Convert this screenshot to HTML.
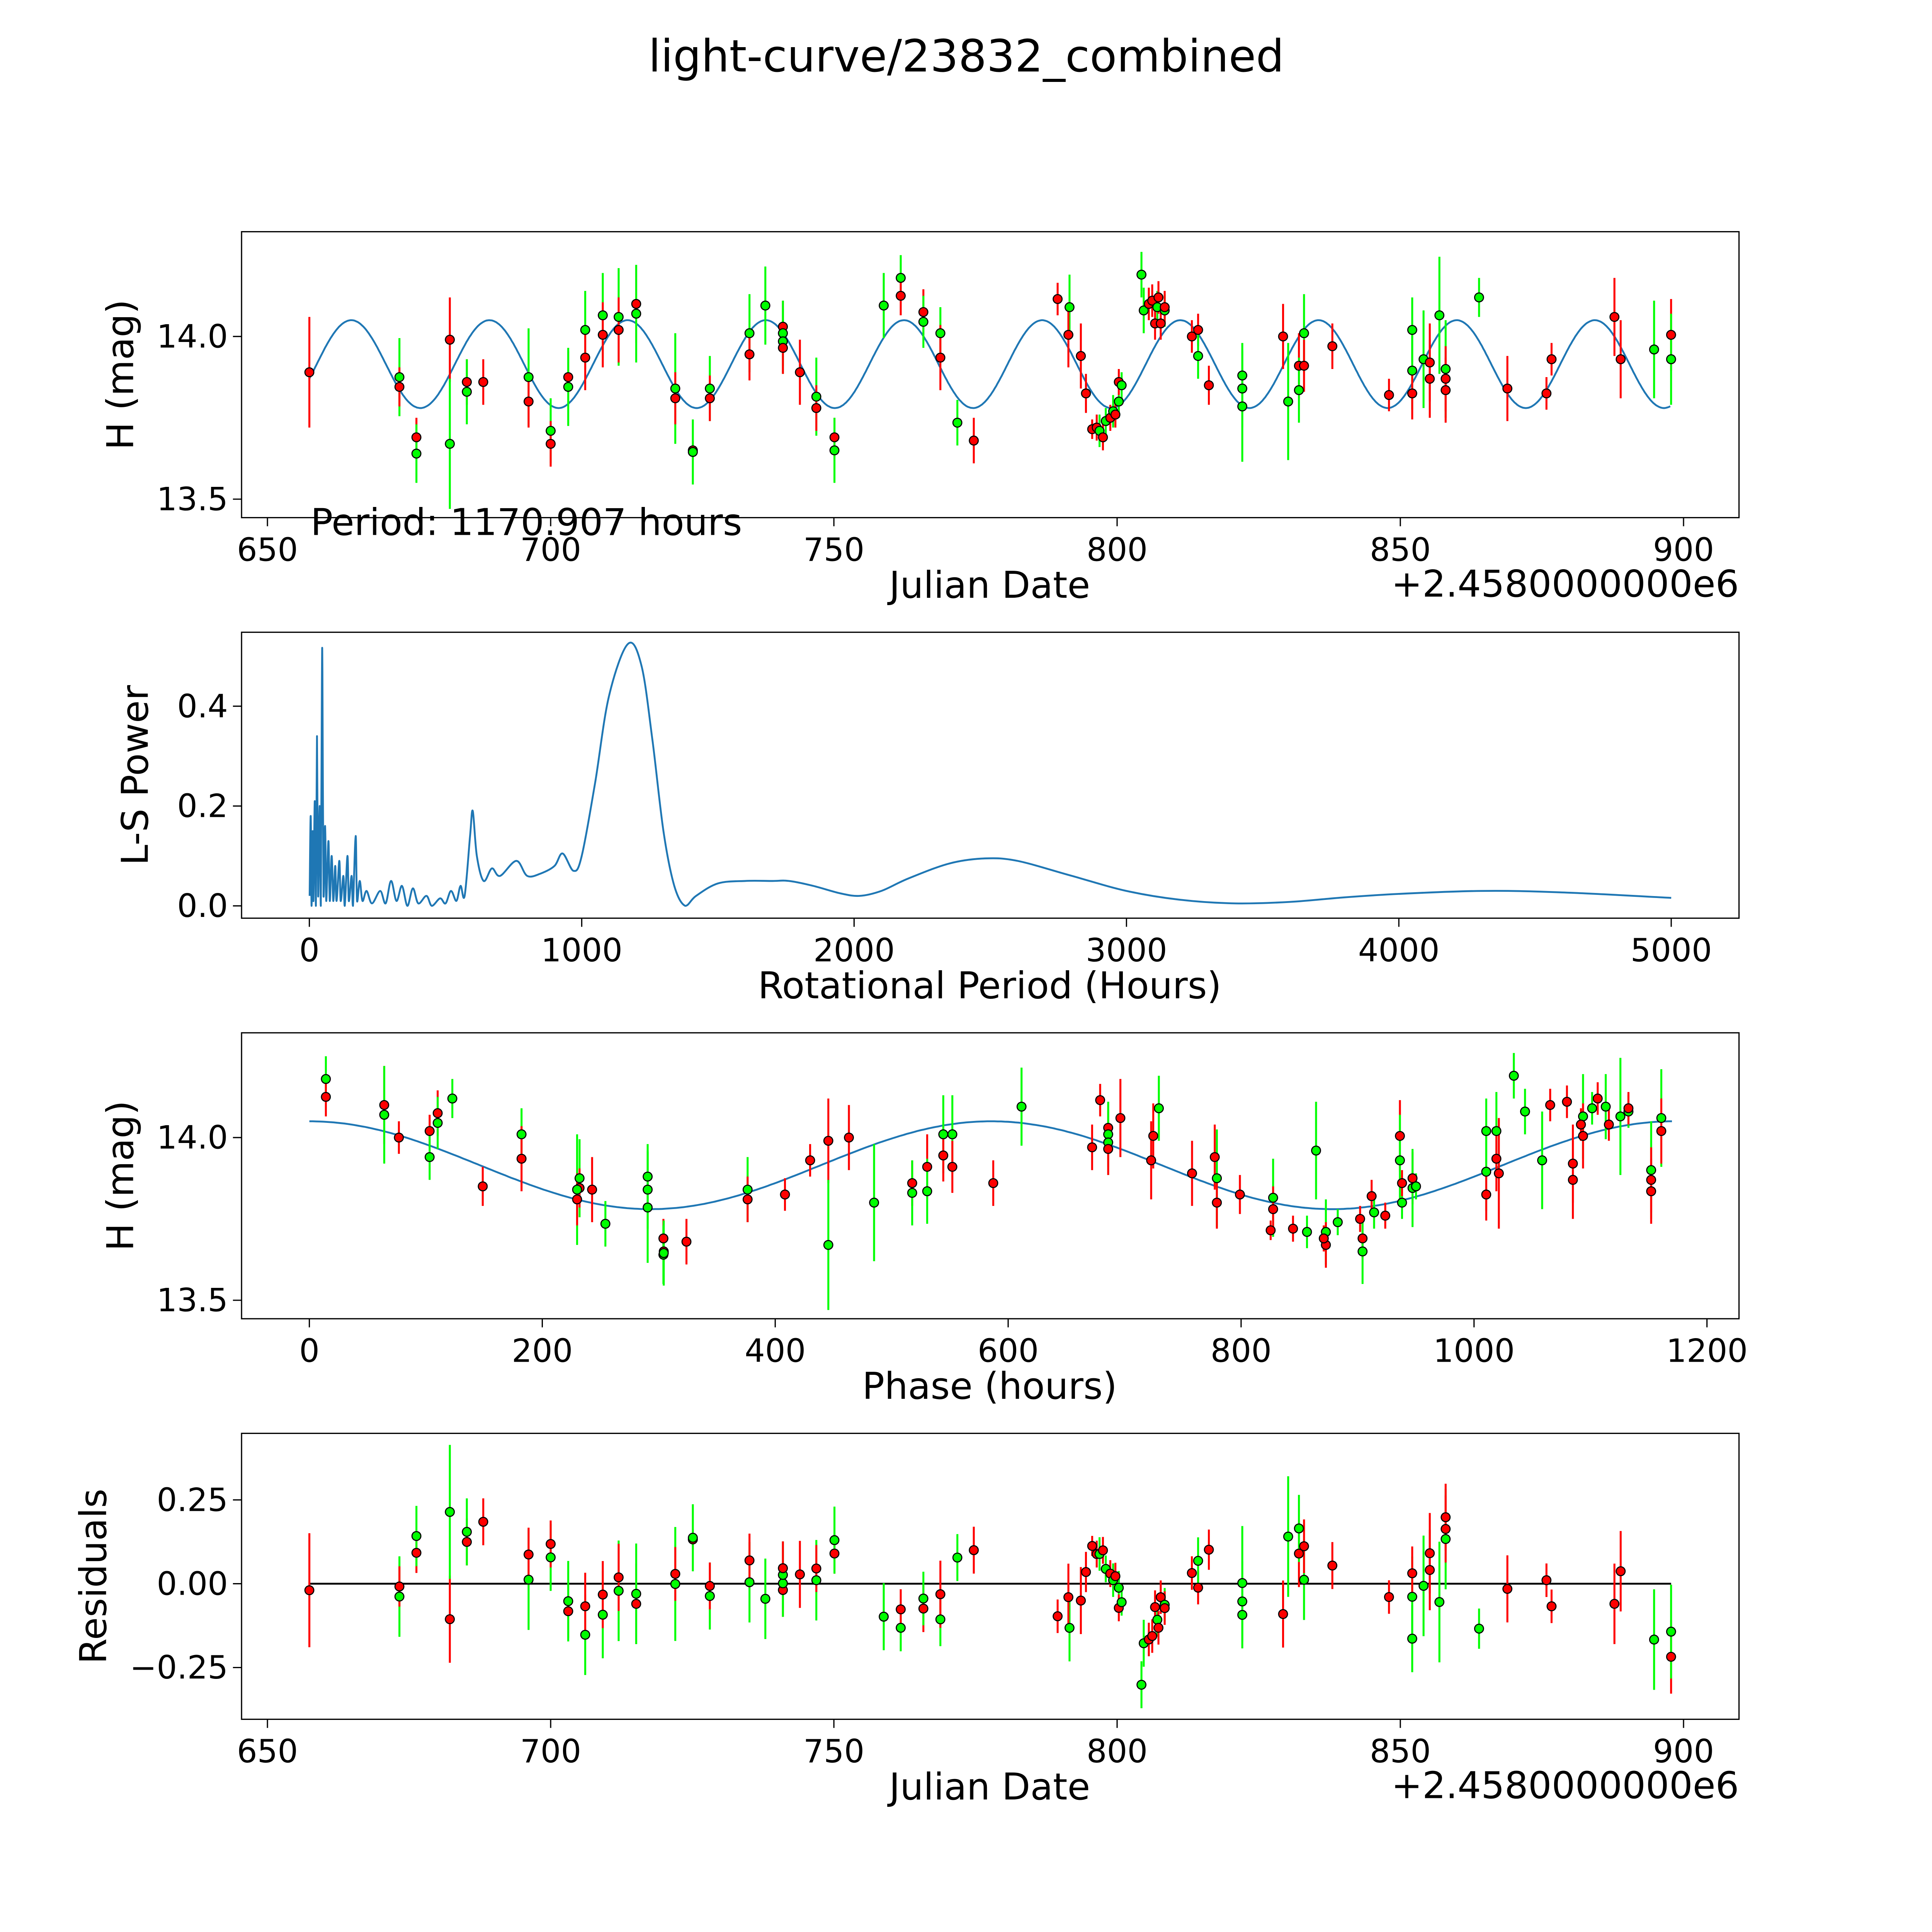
<!DOCTYPE html>
<html><head><meta charset="utf-8"><style>html,body{margin:0;padding:0;background:#fff;overflow:hidden}svg{display:block}</style></head>
<body>
<svg id="fig" xmlns="http://www.w3.org/2000/svg" width="5400" height="5400" viewBox="0 0 1693 1693" font-family="'DejaVu Sans','Liberation Sans',sans-serif">
<rect width="1693" height="1693" fill="#fff"/>
<text x="784" y="58" font-size="36" text-anchor="middle">light-curve/23832_combined</text>
<g id="g"></g>
</svg>
<script>
const jd=[657.4,673.3,673.3,676.3,676.3,682.2,682.2,685.2,685.2,688.1,696.1,696.1,700.0,700.0,703.1,703.1,706.1,706.1,709.2,709.2,712.0,712.0,715.1,715.1,722.0,722.0,725.1,725.1,728.1,728.1,735.1,735.1,737.9,741.0,741.0,741.0,741.0,744.0,746.9,746.9,750.1,750.1,758.8,761.8,761.8,765.8,765.8,768.8,768.8,771.8,774.7,789.5,791.6,791.4,793.6,794.5,795.6,796.4,796.9,797.5,798.0,798.8,799.3,799.7,800.3,800.3,800.8,804.3,804.7,805.6,806.2,806.7,807.1,807.3,807.7,808.4,808.4,813.2,814.3,814.3,816.2,822.1,822.1,822.1,829.3,830.2,832.1,832.1,833.0,833.0,838.0,848.0,852.1,852.1,852.1,854.1,855.2,855.2,856.9,858.0,858.0,858.0,863.9,868.9,875.8,876.7,887.8,888.9,894.8,897.8,897.8];
const mag=[13.89,13.875,13.845,13.69,13.64,13.99,13.67,13.86,13.83,13.86,13.875,13.80,13.71,13.67,13.875,13.845,14.02,13.935,14.065,14.005,14.06,14.02,14.10,14.07,13.84,13.81,13.65,13.645,13.84,13.81,14.01,13.945,14.095,14.03,14.01,13.985,13.965,13.89,13.815,13.78,13.69,13.65,14.095,14.18,14.125,14.075,14.045,14.01,13.935,13.735,13.68,14.115,14.09,14.005,13.94,13.825,13.715,13.72,13.71,13.69,13.74,13.75,13.77,13.76,13.80,13.86,13.85,14.19,14.08,14.10,14.11,14.04,14.09,14.12,14.04,14.08,14.09,14.00,14.02,13.94,13.85,13.88,13.84,13.785,14.00,13.80,13.91,13.835,14.01,13.91,13.97,13.82,14.02,13.895,13.825,13.93,13.92,13.87,14.065,13.90,13.87,13.835,14.12,13.84,13.825,13.93,14.06,13.93,13.96,14.005,13.93];
const err=[0.17,0.12,0.06,0.06,0.09,0.13,0.2,0.07,0.1,0.07,0.15,0.08,0.1,0.07,0.08,0.12,0.12,0.1,0.13,0.1,0.15,0.1,0.12,0.15,0.17,0.08,0.03,0.1,0.1,0.07,0.12,0.08,0.12,0.08,0.1,0.1,0.08,0.1,0.12,0.07,0.06,0.1,0.1,0.07,0.06,0.07,0.08,0.08,0.1,0.07,0.07,0.05,0.1,0.1,0.1,0.06,0.03,0.04,0.05,0.04,0.04,0.04,0.05,0.04,0.05,0.04,0.04,0.07,0.07,0.05,0.05,0.05,0.05,0.05,0.05,0.05,0.05,0.05,0.05,0.07,0.06,0.1,0.12,0.17,0.1,0.18,0.1,0.1,0.12,0.08,0.07,0.05,0.1,0.12,0.08,0.15,0.12,0.12,0.18,0.15,0.1,0.1,0.06,0.1,0.05,0.05,0.12,0.12,0.15,0.11,0.14];
const band=[0,1,0,0,1,0,1,0,1,0,1,0,1,0,0,1,1,0,1,0,1,0,0,1,1,0,0,1,1,0,1,0,1,0,1,1,0,0,1,0,0,1,1,1,0,0,1,1,0,1,0,0,1,0,0,0,0,0,1,0,1,0,1,0,1,0,1,1,1,0,0,0,1,0,0,1,0,0,0,1,0,1,1,1,0,1,0,1,1,0,0,0,1,1,0,1,0,0,1,1,0,0,1,0,0,0,0,0,1,0,1];
const lsPeriod=[1,5,8,12,15,20,24,28,32,38,42,46,48,52,58,62,70,75,82,88,95,100,110,115,125,130,140,145,155,160,170,175,185,195,210,230,260,280,300,320,340,360,380,400,430,450,480,500,520,540,555,570,590,600,615,640,670,700,760,800,850,900,930,970,1000,1050,1100,1170,1220,1260,1300,1340,1380,1420,1500,1600,1700,1760,1850,1950,2020,2100,2200,2350,2480,2600,2800,3000,3200,3400,3600,3800,4000,4300,4600,5000];
const lsPower=[0.02,0.18,0.0,0.15,0.01,0.21,0.0,0.34,0.02,0.2,0.0,0.45,0.47,0.02,0.16,0.01,0.13,0.01,0.1,0.01,0.08,0.01,0.09,0.01,0.06,0.0,0.1,0.01,0.06,0.0,0.14,0.01,0.05,0.01,0.03,0.005,0.03,0.005,0.05,0.01,0.04,0.0,0.035,0.005,0.02,0.0,0.015,0.005,0.03,0.01,0.04,0.02,0.14,0.19,0.1,0.05,0.075,0.06,0.09,0.06,0.065,0.08,0.105,0.07,0.1,0.25,0.42,0.525,0.48,0.33,0.15,0.04,0.0,0.02,0.045,0.05,0.05,0.05,0.04,0.025,0.02,0.03,0.055,0.085,0.095,0.09,0.06,0.03,0.012,0.005,0.008,0.017,0.024,0.03,0.027,0.016];
const periodHours=1170.907, modelMean=13.915, modelAmp=0.135, peakJD=664.8, phaseOffsetHours=28;
const ticksJD=[650,700,750,800,850,900], ticksMag=[13.5,14.0], ticksLS=[0,1000,2000,3000,4000,5000], ticksPow=[0.0,0.2,0.4], ticksPhase=[0,200,400,600,800,1000,1200], ticksRes=[-0.25,0,0.25];

const NS='http://www.w3.org/2000/svg', G=document.getElementById('g');
function el(t,a,p){const e=document.createElementNS(NS,t);for(const k in a)e.setAttribute(k,a[k]);(p||G).appendChild(e);return e;}
const L=196,R=1411;
const xJD=v=>217+(v-650)*4.596;
const xLS=v=>251+v*0.221;
const xPh=v=>251+v*0.945;
const yMag=(top)=>v=>top+85-(v-14)*264;
const y1=yMag(188), y3=yMag(838);
const y2=v=>735-v*405;
const y4=v=>1285-v*272;
const model=t=>modelMean+modelAmp*Math.cos(2*Math.PI*(t-peakJD)*24/(periodHours/2));
const phaseOf=t=>(((t-peakJD)*24+phaseOffsetHours)%periodHours+periodHours)%periodHours;

function axes(name,top,xt,xf,xl,yt,yf,yl,ylab,xlab,ylx){
  const g=el('g',{});
  
  
  xt.forEach(v=>{const x=xf(v);el('line',{x1:x,x2:x,y1:top+232,y2:top+239,stroke:'#000','stroke-width':1},g);
    const t=el('text',{x:x,y:top+267,'font-size':26,'text-anchor':'middle'},g);t.textContent=xl(v);
    });
  yt.forEach(v=>{const y=yf(v);el('line',{x1:L-7,x2:L,y1:y,y2:y,stroke:'#000','stroke-width':1},g);
    const t=el('text',{x:L-11,y:y+9,'font-size':26,'text-anchor':'end'},g);t.textContent=yl(v);
    });
  const yt2=el('text',{x:ylx,y:top+116,'font-size':30,'text-anchor':'middle',transform:`rotate(-90 ${ylx} ${top+116})`},g);yt2.textContent=ylab;
  
  const xt2=el('text',{x:803,y:top+297,'font-size':30,'text-anchor':'middle'},g);xt2.textContent=xlab;
  
  return g;
}
function frame(top){const r=el('rect',{x:L,y:top,width:R-L,height:232,fill:'none',stroke:'#000','stroke-width':1});}
function pts(xs,ys,name,scale){
  const g=el('g',{});
  for(let i=0;i<xs.length;i++){const c=band[i]?'#00ff00':'#ff0000';const x=xs[i],y=ys[i],e=err[i]*scale;
    const l=el('line',{x1:x,x2:x,y1:y-e,y2:y+e,stroke:c,'stroke-width':1.6},g);}
  for(let i=0;i<xs.length;i++){const c=band[i]?'#00ff00':'#ff0000';
    const m=el('circle',{cx:xs[i],cy:ys[i],r:3.6,fill:c,stroke:'#000','stroke-width':0.9},g);}
}
const fmt2=v=>v.toFixed(1), fmtRes=v=>(v<0?'\u2212':'')+Math.abs(v).toFixed(2);

// Panel 1
axes('light-curve-axes',188,ticksJD,xJD,v=>v,ticksMag,y1,fmt2,'H (mag)','Julian Date',108);
let d='';for(let t=657.4;t<=897.8;t+=0.25)d+=(d?'L':'M')+xJD(t).toFixed(1)+','+y1(model(t)).toFixed(1);
let p=el('path',{d:d,fill:'none',stroke:'#1f77b4','stroke-width':1.5});
pts(jd.map(xJD),mag.map(y1),'light-curve-points',264);frame(188);
let t=el('text',{x:252,y:434,'font-size':30});t.textContent='Period: '+periodHours.toFixed(3)+' hours';
t=el('text',{x:1411,y:484,'font-size':30,'text-anchor':'end'});t.textContent='+2.4580000000e6';

// Panel 2 (Catmull-Rom smoothed through data points)
axes('periodogram-axes',513,ticksLS,xLS,v=>v,ticksPow,y2,fmt2,'L-S Power','Rotational Period (Hours)',120);
const P=lsPeriod.map((v,i)=>[xLS(v),y2(lsPower[i])]);
d='M'+P[0][0]+','+P[0][1];
for(let i=0;i<P.length-1;i++){const p0=P[Math.max(0,i-1)],p1=P[i],p2=P[i+1],p3=P[Math.min(P.length-1,i+2)];
  const c1=[p1[0]+(p2[0]-p0[0])/6,p1[1]+(p2[1]-p0[1])/6],c2=[p2[0]-(p3[0]-p1[0])/6,p2[1]-(p3[1]-p1[1])/6];
  c1[1]=Math.min(c1[1],735);c2[1]=Math.min(c2[1],735);
  d+=`C${c1[0].toFixed(1)},${c1[1].toFixed(1)} ${c2[0].toFixed(1)},${c2[1].toFixed(1)} ${p2[0].toFixed(1)},${p2[1].toFixed(1)}`;}
p=el('path',{d:d,fill:'none',stroke:'#1f77b4','stroke-width':1.5,'stroke-linejoin':'round'});
frame(513);

// Panel 3
axes('phase-axes',838,ticksPhase,xPh,v=>v,ticksMag,y3,fmt2,'H (mag)','Phase (hours)',108);
d='';for(let ph=0;ph<=periodHours;ph+=3)d+=(d?'L':'M')+xPh(ph).toFixed(1)+','+y3(model(peakJD+ph/24)).toFixed(1);
p=el('path',{d:d,fill:'none',stroke:'#1f77b4','stroke-width':1.5});
pts(jd.map(v=>xPh(phaseOf(v))),mag.map(y3),'phase-points',264);frame(838);

// Panel 4
axes('residuals-axes',1163,ticksJD,xJD,v=>v,ticksRes,y4,fmtRes,'Residuals','Julian Date',86);
const jmin=Math.min(...jd),jmax=Math.max(...jd);
p=el('line',{x1:xJD(jmin),x2:xJD(jmax),y1:y4(0),y2:y4(0),stroke:'#000','stroke-width':1.5});
pts(jd.map(xJD),jd.map((v,i)=>y4(model(v)-mag[i])),'residual-points',272);frame(1163);
t=el('text',{x:1411,y:1459,'font-size':30,'text-anchor':'end'});t.textContent='+2.4580000000e6';
</script>
</body></html>
